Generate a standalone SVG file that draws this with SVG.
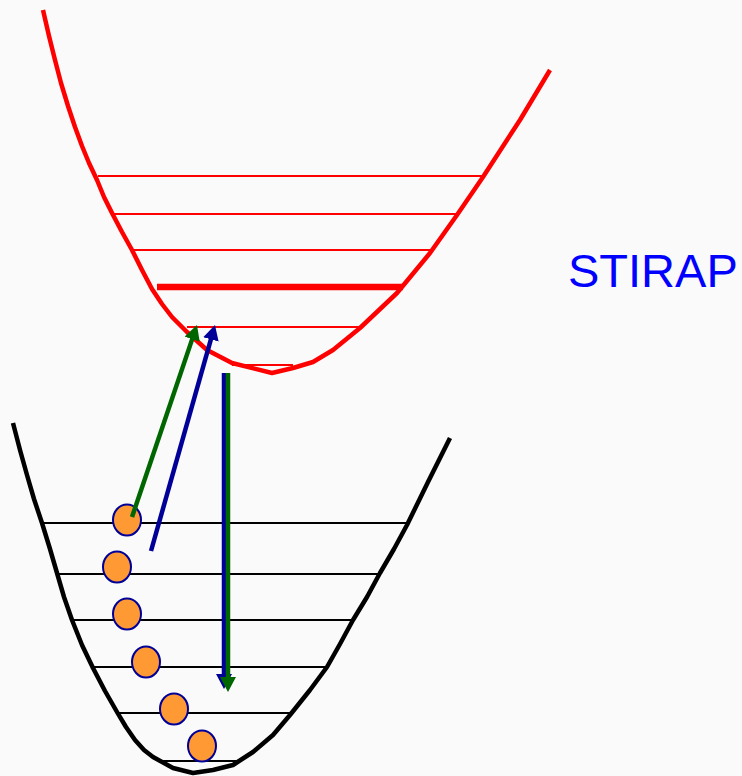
<svg xmlns="http://www.w3.org/2000/svg" width="742" height="776" viewBox="0 0 742 776">
<style>
.well{fill:none;stroke-width:4.5;stroke-linejoin:round}
.red{stroke:#FF0000}
.blk{stroke:#000000}
.lvr{stroke:#FF0000;stroke-width:2}
.lvb{stroke:#000000;stroke-width:2}
.atom{fill:#FF9933;stroke:#000099;stroke-width:2}
.g{stroke:#006600;stroke-width:4.5;fill:none}
.b{stroke:#000099;stroke-width:4.5;fill:none}
.label{font-family:"Liberation Sans",Arial,sans-serif;font-size:47px;fill:#0000FF}
</style>
<defs>
<marker id="ahG" markerUnits="userSpaceOnUse" viewBox="0 0 15 16" markerWidth="15" markerHeight="16" refX="7" refY="8" orient="auto"><path d="M0,0 L15,8 L0,16 z" fill="#006600"/></marker>
<marker id="ahB" markerUnits="userSpaceOnUse" viewBox="0 0 15 16" markerWidth="15" markerHeight="16" refX="7" refY="8" orient="auto"><path d="M0,0 L15,8 L0,16 z" fill="#000099"/></marker>
</defs>
<rect width="742" height="776" fill="#FAFAFA"/>

<g id="excited-well">
<polyline class="well red" points="43,10 49,36 55,60 61,83 68,106 75,127 82,146 89,163 97,180 104,197 112,213 122,232 132,250 142,270 152,289 162,304 172,317 187,332 207,350 232,363 272,373 293,368 313,362 333,350 360,328 397,293 430,253 457,215 483,177 520,120 550,70"/>
</g>
<g id="excited-levels">
<line class="lvr" x1="98" y1="176" x2="484" y2="176"/>
<line class="lvr" x1="113" y1="214" x2="458" y2="214"/>
<line class="lvr" x1="133" y1="250" x2="432" y2="250"/>
<line stroke="#FF0000" stroke-width="6.5" x1="157" y1="287" x2="403" y2="287"/>
<line class="lvr" x1="187" y1="327" x2="359" y2="327"/>
<line class="lvr" x1="232" y1="365" x2="293" y2="365"/>
</g>

<g id="ground-well">
<polyline class="well blk" points="13,423 20,450 27,475 34,499 42,523 50,549 57,573 64,597 72,620 82,645 93,668 105,691 117,712 126,727 135,740 144,750 153,757 173,768 193,773 213,770 233,765 253,752 273,735 290,715 310,690 327,667 340,644 353,620 367,597 380,573 394,549 407,525 428,482 450,438"/>
</g>
<g id="ground-levels">
<line class="lvb" x1="43" y1="523" x2="407" y2="523"/>
<line class="lvb" x1="57" y1="574" x2="381" y2="574"/>
<line class="lvb" x1="72" y1="620" x2="354" y2="620"/>
<line class="lvb" x1="92" y1="667" x2="326" y2="667"/>
<line class="lvb" x1="117" y1="713" x2="291" y2="713"/>
<line class="lvb" x1="163" y1="761" x2="237" y2="761"/>
</g>

<g id="atoms">
<ellipse class="atom" cx="127" cy="520" rx="14" ry="15.5"/>
<ellipse class="atom" cx="117" cy="567" rx="14" ry="15.5"/>
<ellipse class="atom" cx="127" cy="614" rx="14" ry="15.5"/>
<ellipse class="atom" cx="146" cy="662" rx="14" ry="15.5"/>
<ellipse class="atom" cx="174" cy="709" rx="14" ry="15.5"/>
<ellipse class="atom" cx="202" cy="746" rx="14" ry="15.5"/>
</g>

<g id="connectors">
<line class="g" x1="132" y1="517" x2="194.4" y2="332.6" marker-end="url(#ahG)"/>
<line class="b" x1="151" y1="551" x2="212.8" y2="332.7" marker-end="url(#ahB)"/>
<line class="b" stroke-width="2.5" x1="224" y1="373" x2="224" y2="681" marker-end="url(#ahB)"/>
<line class="g" x1="228" y1="373" x2="228" y2="684" marker-end="url(#ahG)"/>
</g>

<g id="label">
<text class="label" x="568" y="287">STIRAP</text>
</g>
</svg>
